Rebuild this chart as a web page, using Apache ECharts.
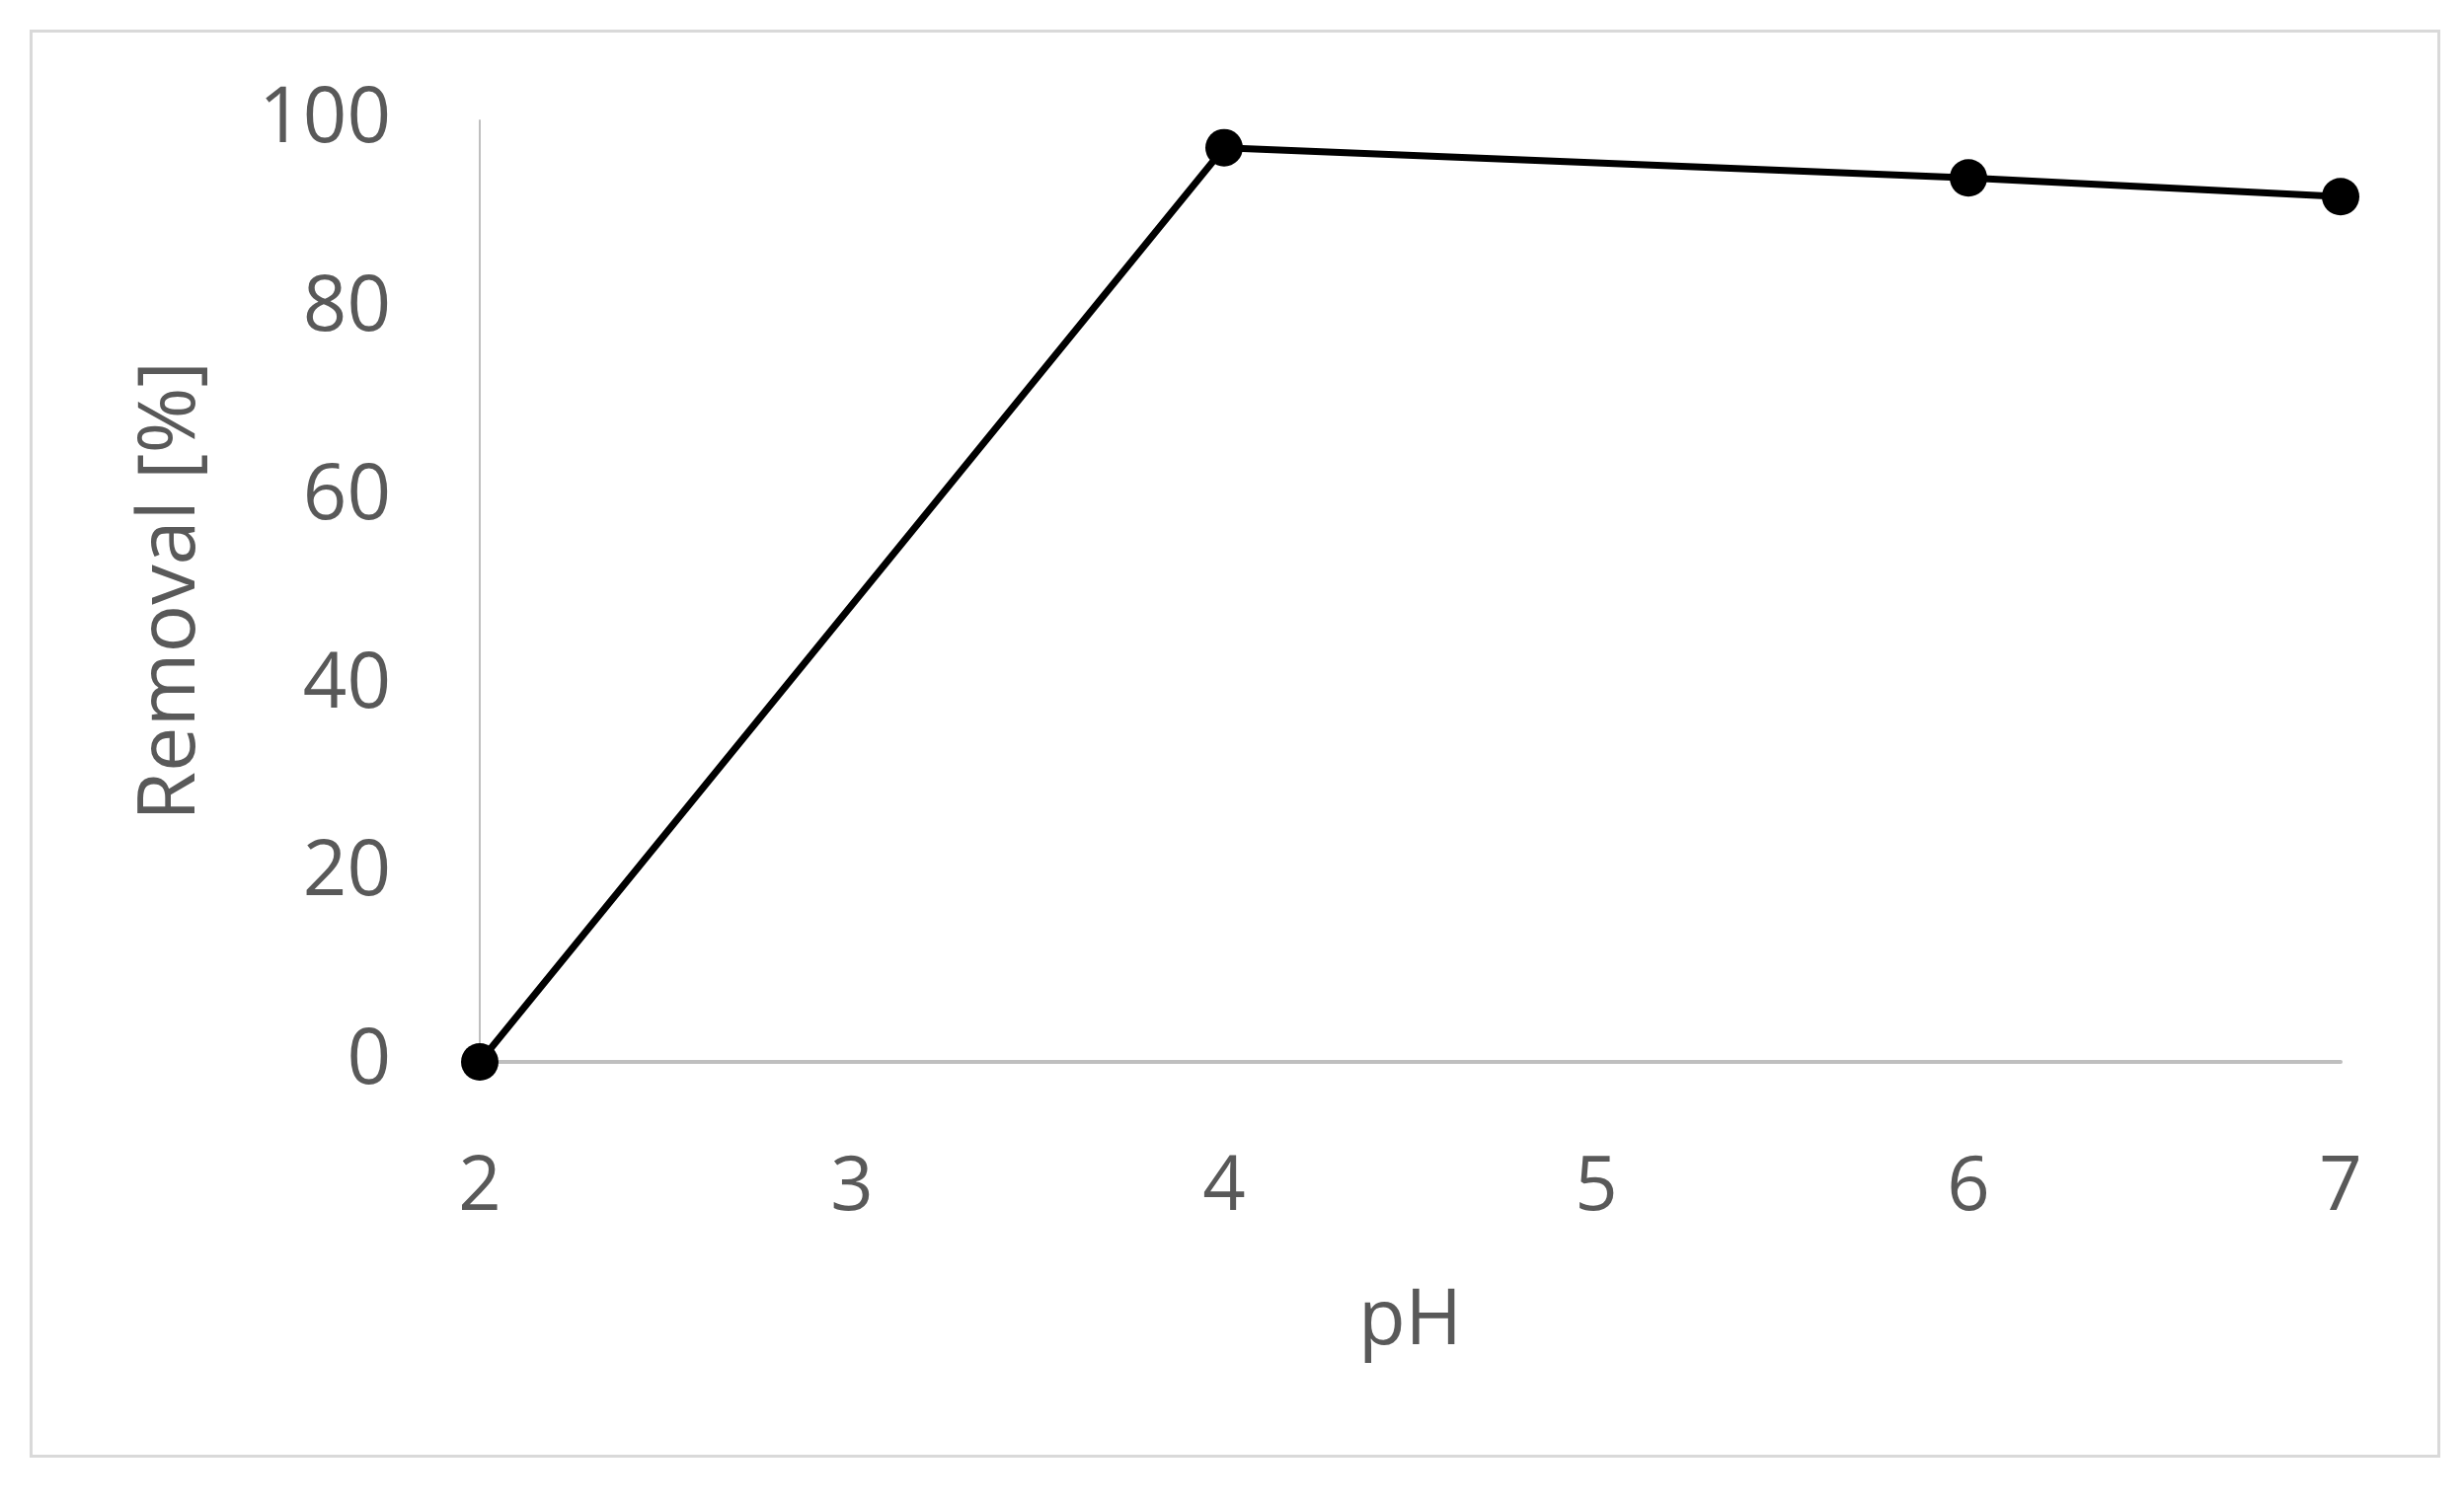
<!DOCTYPE html>
<html>
<head>
<meta charset="utf-8">
<script src="https://cdn.jsdelivr.net/npm/echarts@6/dist/echarts.min.js"></script>
<style>
  html, body { margin: 0; padding: 0; background: #fff; }
  #chart { width: 2496px; height: 1528px; }
</style>
</head>
<body>
<div id="chart"></div>
<script>
// pH values and removal efficiency
const phValues = [2, 4, 6, 7]
const removal = [0, 97.1, 93.9, 91.9]
const xTicks = { min: 2, max: 7, step: 1 }
const yTicks = { min: 0, max: 100, step: 20 }

const textColor = '#595959'
const axisColor = '#bfbfbf'
const fontFamily = '"Open Sans", "Noto Sans", sans-serif'

const chart = echarts.init(document.getElementById('chart'))

chart.setOption({
  backgroundColor: '#fff',
  animation: false,
  graphic: [{
    type: 'rect',
    left: 29,
    top: 29,
    shape: { width: 2439, height: 1444 },
    style: { fill: 'none', stroke: '#d9d9d9', lineWidth: 3 },
    silent: true
  }],
  grid: {
    left: 486,
    right: 125,
    top: 122,
    bottom: 452
  },
  xAxis: {
    type: 'value',
    min: xTicks.min,
    max: xTicks.max,
    interval: xTicks.step,
    name: 'pH',
    nameLocation: 'middle',
    nameGap: 225,
    nameTextStyle: { color: textColor, fontSize: 78, fontFamily: fontFamily },
    axisLine: { show: true, onZero: false, lineStyle: { color: axisColor, width: 4 } },
    axisTick: { show: false },
    splitLine: { show: false },
    axisLabel: { color: textColor, fontSize: 76, fontFamily: fontFamily, margin: 90 }
  },
  yAxis: {
    type: 'value',
    min: yTicks.min,
    max: yTicks.max,
    interval: yTicks.step,
    name: 'Removal [%]',
    nameLocation: 'middle',
    nameGap: 272,
    nameTextStyle: { color: textColor, fontSize: 81, fontFamily: fontFamily },
    axisLine: { show: true, onZero: false, lineStyle: { color: axisColor, width: 2 } },
    axisTick: { show: false },
    splitLine: { show: false },
    axisLabel: { color: textColor, fontSize: 78, fontFamily: fontFamily, margin: 90 }
  },
  series: [{
    type: 'line',
    data: phValues.map((x, i) => [x, removal[i]]),
    symbol: 'circle',
    symbolSize: 38,
    itemStyle: { color: '#000' },
    lineStyle: { color: '#000', width: 7 }
  }]
})
</script>
</body>
</html>
